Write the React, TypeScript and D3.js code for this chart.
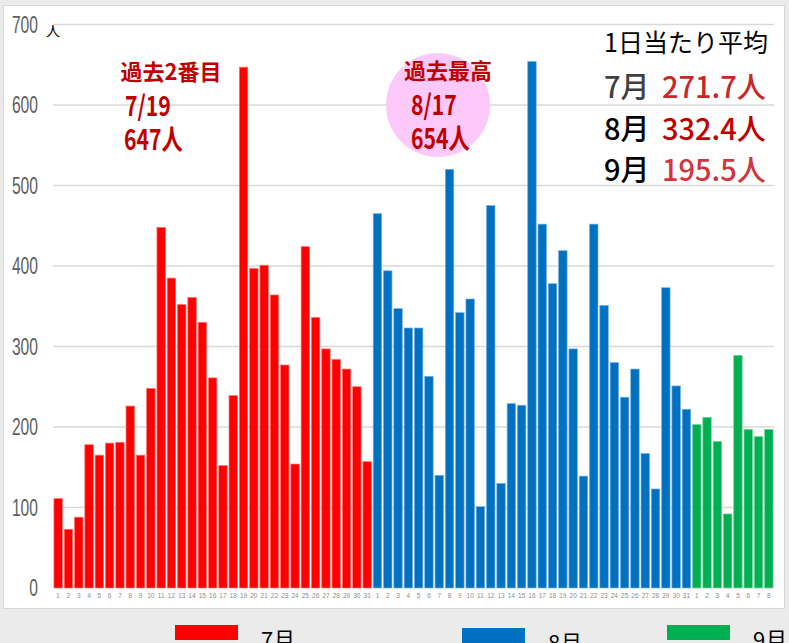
import React from 'react'
import * as d3 from 'd3'

// daily counts
const julyValues = [111, 73, 88, 178, 165, 180, 181, 226, 165, 248, 448, 385, 352, 361, 330, 261, 152, 239, 647, 397, 401, 364, 277, 154, 424, 336, 297, 284, 272, 250, 157]
const augValues = [465, 394, 347, 323, 323, 263, 140, 520, 342, 359, 101, 475, 130, 229, 227, 654, 452, 378, 419, 297, 139, 452, 351, 280, 237, 272, 167, 123, 373, 251, 222]
const sepValues = [203, 212, 182, 92, 289, 197, 188, 197]

const months = ['7月', '8月', '9月']
const monthColors = ['#ff0000', '#0070c0', '#00b050']
const yTicks = [0, 100, 200, 300, 400, 500, 600, 700]

const averageLabels = ['271.7人', '332.4人', '195.5人']
const averageColors = ['#c62828', '#c00000', '#d0363c']
const monthLabelColors = ['#404040', '#000000', '#000000']

const W = 789
const H = 643
const jp = "'Noto Sans CJK JP', 'Noto Sans', sans-serif"

type Bar = { key: string; day: number; value: number; month: number }

const bars: Bar[] = [julyValues, augValues, sepValues].flatMap((vals, m) =>
    vals.map((v, i) => ({ key: `${m}-${i + 1}`, day: i + 1, value: v, month: m }))
)

const App = () => {
    const x = d3.scaleBand<string>()
        .domain(bars.map(d => d.key))
        .range([53, 774])
        .paddingInner(0.18)
        .paddingOuter(0.09)
    const y = d3.scaleLinear().domain([0, 700]).range([588, 24.5])

    const lighter = (c: string) => d3.interpolateRgb(c, '#ffffff')(0.45)

    // narrow, tall digits like the original annotations
    const tall = (tx: number, ty: number, s: string) => (
        <g transform={`translate(${tx},${ty}) scale(0.85,1.12)`}>
            <text fontSize={25} fontWeight={700}>{s}</text>
        </g>
    )

    return (
        <svg width={W} height={H} style={{ position: 'absolute', left: 0, top: 0 }}>
            <rect x={0} y={0} width={W} height={H} fill="#ebebeb" />
            <rect x={3.5} y={5.5} width={781} height={603} fill="#ffffff" stroke="#d6d6d6" />

            {/* grid */}
            {yTicks.filter(t => t > 0).map(t => (
                <line key={t} x1={53} x2={774} y1={y(t)} y2={y(t)} stroke="#d9d9d9" strokeWidth={1.5} />
            ))}

            {/* y labels */}
            {yTicks.map(t => (
                <g key={t} transform={`translate(38,${y(t)}) scale(0.68,1)`}>
                    <text textAnchor="end" dominantBaseline="central" fontSize={23}
                        fontFamily="'Liberation Sans', sans-serif" fill="#606060">{t}</text>
                </g>
            ))}
            <text x={46} y={36} fontSize={14} fontFamily={jp} fill="#000">人</text>

            {/* bars */}
            {bars.map(d => (
                <rect key={d.key}
                    x={x(d.key)}
                    y={y(d.value)}
                    width={x.bandwidth()}
                    height={y(0) - y(d.value)}
                    fill={monthColors[d.month]}
                    stroke={lighter(monthColors[d.month])}
                    strokeWidth={0.7} />
            ))}

            {/* x labels */}
            {bars.map(d => (
                <text key={'l' + d.key}
                    x={(x(d.key) ?? 0) + x.bandwidth() / 2}
                    y={598}
                    textAnchor="middle"
                    fontSize={6.5}
                    fontFamily="'Liberation Sans', sans-serif"
                    fill="#8c8c8c">{d.day}</text>
            ))}

            {/* annotation: second highest */}
            <g fill="#c00000" fontFamily={jp}>
                <text x={171} y={80} textAnchor="middle" fontSize={22} fontWeight={700}>過去2番目</text>
                {tall(125, 116, '7/19')}
                {tall(124, 150, '647人')}
            </g>

            {/* annotation: record */}
            <circle cx={438} cy={105} r={52} fill="#fcc9fa" />
            <g fill="#c00000" fontFamily={jp}>
                <text x={448} y={79} textAnchor="middle" fontSize={22} fontWeight={700}>過去最高</text>
                {tall(411, 115, '8/17')}
                {tall(411, 149, '654人')}
            </g>

            {/* daily average box */}
            <text x={604} y={52} fontSize={25} fontFamily={jp} fill="#000">1日当たり平均</text>
            {months.map((m, i) => (
                <g key={m} fontFamily={jp} fontSize={29} fontWeight={500}>
                    <text x={604} y={98 + i * 41.5} fill={monthLabelColors[i]}>{m}</text>
                    <text x={662} y={98 + i * 41.5} fill={averageColors[i]}>{averageLabels[i]}</text>
                </g>
            ))}

            {/* legend */}
            {months.map((m, i) => {
                const lx = [175, 462, 667][i]
                const ly = [625, 628, 625][i]
                return (
                    <g key={'leg' + m}>
                        <rect x={lx} y={ly} width={63} height={15} fill={monthColors[i]} />
                        <text x={lx + 86} y={ly + 23} fontSize={22} fontFamily="'Noto Sans CJK JP', serif" fill="#000">{m}</text>
                    </g>
                )
            })}
        </svg>
    )
}

export default App
